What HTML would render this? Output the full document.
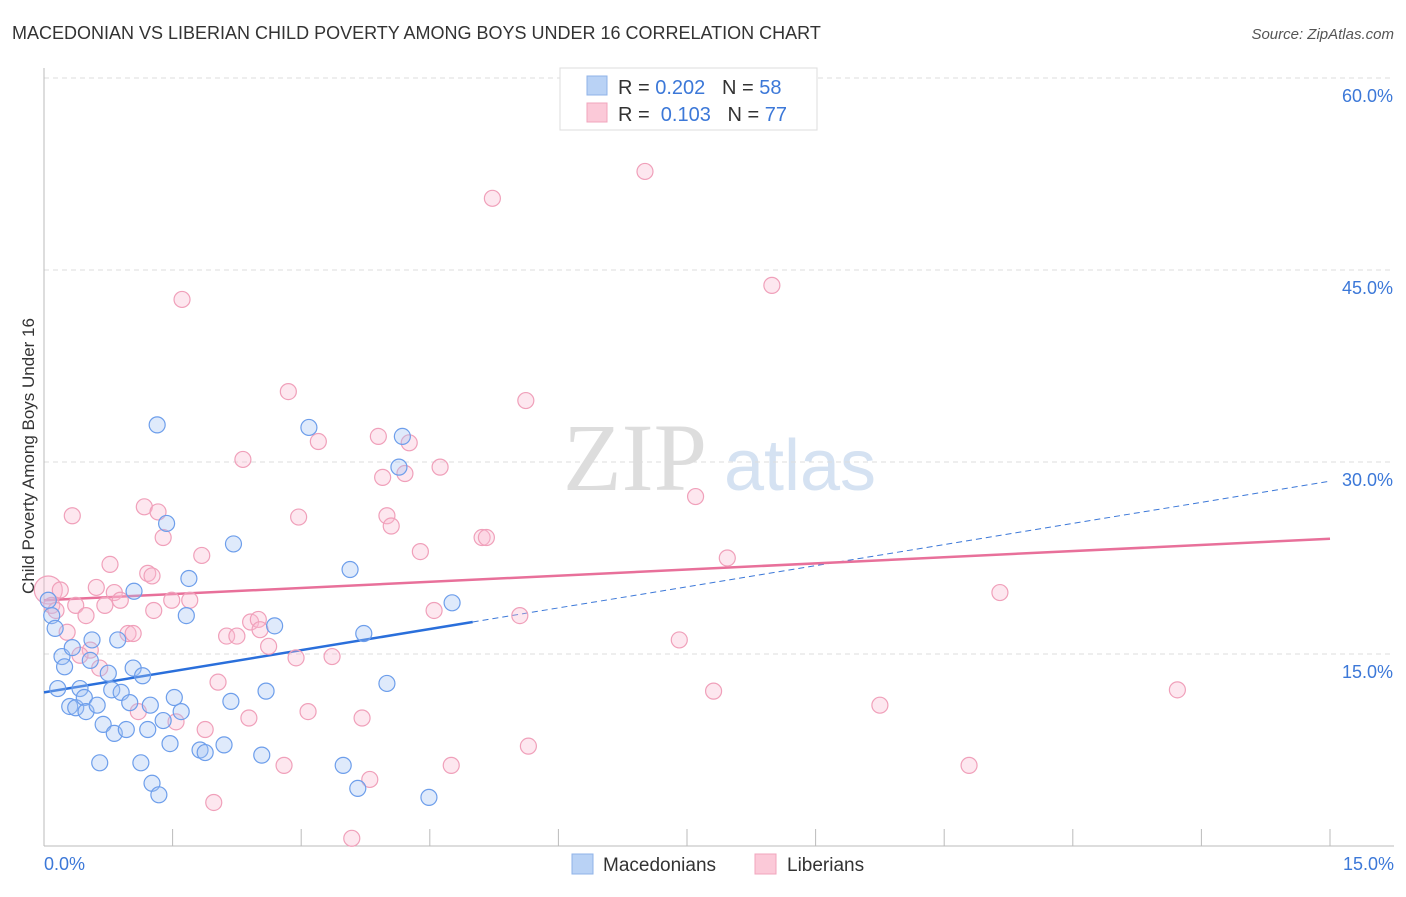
<!DOCTYPE html>
<html><head><meta charset="utf-8"><style>
body{margin:0;background:#fff;font-family:"Liberation Sans",sans-serif;}
svg text{font-family:"Liberation Sans",sans-serif;}
</style></head><body>
<svg id="chart" width="1406" height="892">
<text x="12" y="39" font-size="18" fill="#333">MACEDONIAN VS LIBERIAN CHILD POVERTY AMONG BOYS UNDER 16 CORRELATION CHART</text>
<text x="1394" y="39" font-size="15" fill="#555" font-style="italic" text-anchor="end">Source: ZipAtlas.com</text>
<text x="34" y="456" font-size="17" fill="#333" transform="rotate(-90 34 456)" text-anchor="middle">Child Poverty Among Boys Under 16</text>
<g><text x="635" y="490" font-size="96" fill="#ddd" font-family="Liberation Serif" text-anchor="middle" style="font-family:'Liberation Serif',serif">ZIP</text><text x="800" y="490" font-size="72" fill="#d5e2f2" text-anchor="middle">atlas</text></g>
<g id="grid"></g><g id="axes"></g><g id="trend"></g><g id="pts"></g>
<g>
<rect x="560" y="68" width="257" height="62" fill="#fff" stroke="#ddd"/>
<rect x="587" y="76" width="20" height="19" fill="#b9d2f5" stroke="#8fb3e8"/>
<rect x="587" y="103" width="20" height="19" fill="#fbc9d8" stroke="#f0a5bd"/>
<text x="618" y="94" font-size="20" fill="#333">R = <tspan fill="#3c78d8">0.202</tspan>&#160;&#160;&#160;N = <tspan fill="#3c78d8">58</tspan></text>
<text x="618" y="121" font-size="20" fill="#333">R = &#160;<tspan fill="#3c78d8">0.103</tspan>&#160;&#160;&#160;N = <tspan fill="#3c78d8">77</tspan></text>
</g>
<g>
<rect x="572" y="854" width="21" height="20" fill="#b9d2f5" stroke="#8fb3e8"/>
<text x="603" y="871" font-size="19" fill="#333">Macedonians</text>
<rect x="755" y="854" width="21" height="20" fill="#fbc9d8" stroke="#f0a5bd"/>
<text x="787" y="871" font-size="19" fill="#333">Liberians</text>
</g>
</svg>
<script>
const yTicks=[15,30,45,60];
const yTickLabels=["15.0%","30.0%","45.0%","60.0%"];
const xTicks=[0,1.5,3,4.5,6,7.5,9,10.5,12,13.5,15];
const blueX=[0.05,0.09,0.13,0.21,0.24,0.16,0.30,0.37,0.42,0.47,0.49,0.56,0.62,0.65,0.69,0.33,0.54,0.75,0.79,0.82,0.86,0.90,0.96,1.00,1.05,1.04,1.13,1.15,1.21,1.24,1.26,1.32,1.34,1.39,1.43,1.47,1.52,1.60,1.66,1.69,1.82,1.88,2.10,2.18,2.21,2.54,2.59,2.69,3.09,3.49,3.57,3.66,3.73,4.00,4.14,4.18,4.49,4.76];
const blueY=[19.2,18.0,17.0,14.8,14.0,12.3,10.9,10.8,12.3,11.6,10.5,16.1,11.0,6.5,9.5,15.5,14.5,13.5,12.2,8.8,16.1,12.0,9.1,11.2,19.9,13.9,6.5,13.3,9.1,11.0,4.9,32.9,4.0,9.8,25.2,8.0,11.6,10.5,18.0,20.9,7.5,7.3,7.9,11.3,23.6,7.1,12.1,17.2,32.7,6.3,21.6,4.5,16.6,12.7,29.6,32.0,3.8,19.0];
const pinkX=[0.05,0.09,0.19,0.27,0.33,0.37,0.49,0.54,0.61,0.65,0.71,0.77,0.82,0.89,0.98,1.04,1.10,1.17,1.21,1.26,1.33,1.39,1.49,1.54,1.61,1.70,1.84,1.88,1.98,2.03,2.13,2.25,2.32,2.39,2.41,2.50,2.62,2.80,2.85,2.94,2.97,3.08,3.20,3.36,3.59,3.71,3.80,3.90,3.95,4.00,4.05,4.21,4.26,4.39,4.55,4.62,4.75,5.11,5.16,5.23,5.55,5.62,5.65,7.01,7.41,7.60,7.81,7.97,8.49,9.75,10.79,11.15,13.22,0.14,0.42,1.28,2.52];
const pinkY=[20.0,18.8,20.0,16.7,25.8,18.8,18.0,15.3,20.2,13.9,18.8,22.0,19.8,19.2,16.6,16.6,10.5,26.5,21.3,21.1,26.1,24.1,19.2,9.7,42.7,19.2,22.7,9.1,3.4,12.8,16.4,16.4,30.2,10.0,17.5,17.7,15.6,6.3,35.5,14.7,25.7,10.5,31.6,14.8,0.6,10.0,5.2,32.0,28.8,25.8,25.0,29.1,31.5,23.0,18.4,29.6,6.3,24.1,24.1,50.6,18.0,34.8,7.8,52.7,16.1,27.3,12.1,22.5,43.8,11.0,6.3,19.8,12.2,18.4,14.9,18.4,16.9];
const blueTrend=[12.0,28.5];
const pinkTrend=[19.2,24.0];
const NS="http://www.w3.org/2000/svg";
const X=v=>44+v/15*1286, Y=v=>846-v*12.8;
function mk(tag,parent,attrs){const e=document.createElementNS(NS,tag);for(const k in attrs)e.setAttribute(k,attrs[k]);parent.appendChild(e);return e;}
const grid=document.getElementById('grid'),axes=document.getElementById('axes'),trend=document.getElementById('trend'),pts=document.getElementById('pts');
yTicks.forEach((t,i)=>{
 const l=mk('line',grid,{x1:44,x2:1394,y1:Y(t),y2:Y(t),stroke:'#ddd','stroke-dasharray':'5,4'});
 
 
 const tx=mk('text',axes,{x:1393,y:Y(t)+24,'font-size':18,fill:'#3c78d8','text-anchor':'end'});tx.textContent=yTickLabels[i];
 
 
});
const topl=mk('line',grid,{x1:44,x2:1394,y1:78,y2:78,stroke:'#ddd','stroke-dasharray':'5,4'});


const ya=mk('line',axes,{x1:44,x2:44,y1:68,y2:846,stroke:'#bbb'});


const xa=mk('line',axes,{x1:44,x2:1394,y1:846,y2:846,stroke:'#bbb'});


xTicks.forEach(t=>{const l=mk('line',axes,{x1:X(t),x2:X(t),y1:829,y2:846,stroke:'#bbb'});
 
 });
const x0=mk('text',axes,{x:44,y:870,'font-size':18,fill:'#3c78d8'});x0.textContent='0.0%';


const x1=mk('text',axes,{x:1394,y:870,'font-size':18,fill:'#3c78d8','text-anchor':'end'});x1.textContent='15.0%';


function series(xs,ys,stroke,fill,name){xs.forEach((x,i)=>{const c=mk('circle',pts,{cx:X(x),cy:Y(ys[i]),r:(i===0&&name==='liberian-point')?14:8,fill:fill,stroke:stroke,'stroke-width':1.2});
 
 });}
series(pinkX,pinkY,'#f0a0ba','rgba(248,187,208,0.35)','liberian-point');
series(blueX,blueY,'#6d9eeb','rgba(164,194,244,0.35)','macedonian-point');
const bEnd=5.0, bAt=blueTrend[0]+(blueTrend[1]-blueTrend[0])*bEnd/15;
const bd=mk('line',trend,{x1:X(bEnd),y1:Y(bAt),x2:X(15),y2:Y(blueTrend[1]),stroke:'#3c78d8','stroke-width':1,'stroke-dasharray':'6,4'});


const bl=mk('line',trend,{x1:X(0),y1:Y(blueTrend[0]),x2:X(bEnd),y2:Y(bAt),stroke:'#2a6fdb','stroke-width':2.5});


const pl=mk('line',trend,{x1:X(0),y1:Y(pinkTrend[0]),x2:X(15),y2:Y(pinkTrend[1]),stroke:'#e8709a','stroke-width':2.5});


</script>
</body></html>
